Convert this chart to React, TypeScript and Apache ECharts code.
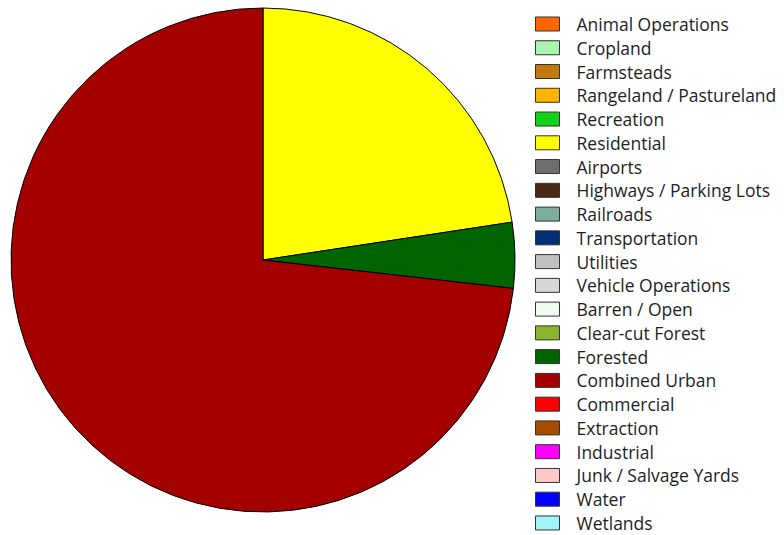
import React, { useEffect, useRef } from "react";
import * as echarts from "echarts";

const categories = [
  "Animal Operations", "Cropland", "Farmsteads", "Rangeland / Pastureland", "Recreation",
  "Residential", "Airports", "Highways / Parking Lots", "Railroads", "Transportation",
  "Utilities", "Vehicle Operations", "Barren / Open", "Clear-cut Forest", "Forested",
  "Combined Urban", "Commercial", "Extraction", "Industrial", "Junk / Salvage Yards",
  "Water", "Wetlands",
];
const values = [0, 0, 0, 0, 0, 22.6, 0, 0, 0, 0, 0, 0, 0, 0, 4.2, 73.2, 0, 0, 0, 0, 0, 0];
const colors = [
  "#ff6600", "#a8f5b0", "#c07a10", "#ffb400", "#11d41a",
  "#ffff00", "#6e6e6e", "#4a2a14", "#7fad9c", "#002f7a",
  "#c0c0c0", "#d6d6d6", "#eefcee", "#8bb52a", "#006400",
  "#a50000", "#ff0000", "#a84a00", "#ff00ff", "#ffc8c8",
  "#0000ff", "#a0f4f8",
];

export default function App() {
  const ref = useRef<HTMLDivElement>(null);
  useEffect(() => {
    const chart = echarts.init(ref.current!, null, { renderer: "svg" });
    chart.setOption({
      animation: false,
      backgroundColor: "#ffffff",
      legend: {
        orient: "vertical",
        left: 530,
        top: 10,
        height: 525,
        itemWidth: 24,
        itemHeight: 14,
        itemGap: 5.76,
        icon: "rect",
        selectedMode: false,
        itemStyle: { borderColor: "#333", borderWidth: 1 },
        textStyle: {
          fontFamily: "Open Sans",
          fontSize: 17.5,
          lineHeight: 18,
          color: "#1e1e1e",
          padding: [0, 0, 0, 12],
        },
        data: categories,
      },
      series: [
        {
          type: "pie",
          center: [263, 260],
          radius: 252,
          startAngle: 90,
          clockwise: true,
          label: { show: false },
          labelLine: { show: false },
          emphasis: { disabled: true },
          silent: true,
          itemStyle: { borderColor: "#000", borderWidth: 1 },
          data: categories.map((name, i) => ({
            name,
            value: values[i],
            itemStyle: { color: colors[i], borderWidth: values[i] > 0 ? 1 : 0 },
          })),
        },
      ],
    });
    return () => chart.dispose();
  }, []);
  return (
    <div
      ref={ref}
      style={{ position: "absolute", left: 0, top: 0, width: 784, height: 535, background: "#fff" }}
    />
  );
}
